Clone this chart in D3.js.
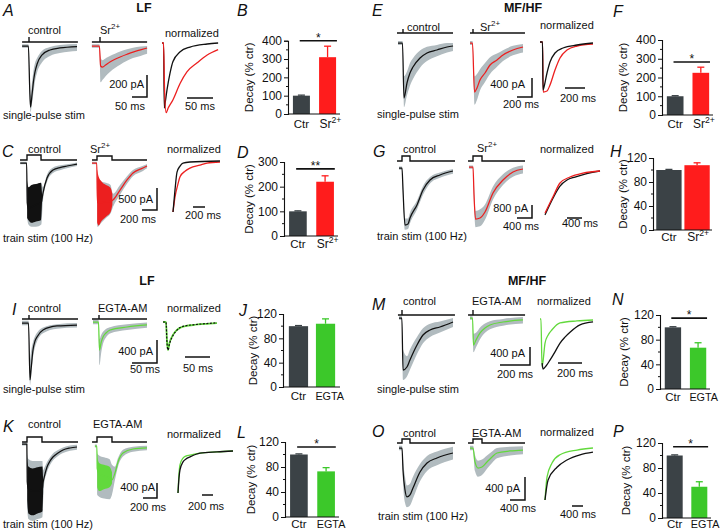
<!DOCTYPE html>
<html><head><meta charset="utf-8">
<script src="https://cdn.jsdelivr.net/npm/d3@7"></script>
<style>body{margin:0;background:#fff}svg{display:block}text{font-family:"Liberation Sans",Arial,sans-serif;fill:#111}</style>
</head><body><svg id="c" width="720" height="532"></svg>
<script>
// ================= DATA =================
// bar charts: % decay relative to control
const catsSr = ["Ctr", "Sr2+"];
const catsEG = ["Ctr", "EGTA"];
const decayB = [100, 310], errB = [3, 60];
const decayD = [100, 220], errD = [2, 24];
const decayF = [100, 225], errF = [3, 30];
const decayH = [100, 108], errH = [1, 4];
const decayJ = [100, 104], errJ = [1, 8];
const decayL = [100, 73],  errL = [1, 6];
const decayN = [100, 67],  errN = [1, 8];
const decayP = [100, 50],  errP = [1, 8];
const ticks400 = [0, 100, 200, 300, 400];
const ticks300 = [0, 100, 200, 300];
const ticks120 = [0, 40, 80, 120];
// significance bars: [value level, label]
const sigB = [400, "*"], sigD = [272, "**"], sigF = [283, "*"], sigL = [112, "*"], sigN = [115, "*"], sigP = [114, "*"];

// raw traces: [time ms, mean pA, gray envelope low pA, gray envelope high pA]
const tA_ctrl = [[-23,0,-15,15],[-2,0,-15,15],[2,-355,-450,-250],[5,-555,-600,-450],[10,-445,-520,-330],[15,-320,-420,-220],[20,-236,-320,-155],[27,-164,-240,-110],[43,-82,-150,-45],[70,-36,-90,-10],[103,-18,-64,10],[160,-5,-45,18]];
const tA_sr = [[-27,0,-15,15],[-2,0,-15,15],[2,-182,-330,-100],[8,-191,-310,-130],[20,-170,-270,-110],[33,-145,-236,-90],[50,-120,-200,-70],[67,-100,-170,-50],[90,-75,-135,-30],[110,-55,-110,-15],[135,-35,-90,-5],[157,-18,-70,0]];
const tC_ctrl = [[-90,0,-30,30],[-5,0,-30,30],[3,-900,-1250,-500],[20,-1050,-1400,-600],[60,-1000,-1450,-550],[120,-950,-1450,-500],[190,-900,-1400,-450],[213,-682,-850,-550],[267,-341,-430,-260],[347,-159,-230,-100],[450,-100,-160,-50],[533,-68,-120,-30],[667,-23,-70,10]];
const tC_sr = [[-67,0,-30,30],[-3,0,-30,30],[5,-900,-1450,-350],[60,-900,-1350,-420],[120,-880,-1250,-450],[180,-870,-1150,-500],[213,-840,-1000,-700],[307,-614,-720,-500],[400,-386,-470,-300],[480,-227,-300,-160],[613,-114,-180,-60],[667,-68,-120,-20]];
const tE_ctrl = [[-67,0,-40,40],[-7,0,-40,40],[13,-1158,-1350,-700],[53,-842,-1100,-600],[93,-632,-900,-420],[133,-505,-760,-320],[227,-316,-520,-160],[320,-210,-380,-80],[453,-147,-280,-40],[587,-84,-200,0],[667,-63,-170,0]];
const tE_sr = [[-40,0,-40,40],[-7,0,-40,40],[20,-1032,-1300,-700],[53,-947,-1200,-650],[93,-779,-1000,-550],[160,-632,-820,-420],[227,-463,-650,-300],[320,-358,-500,-220],[400,-253,-380,-150],[533,-147,-260,-60],[667,-84,-200,-20]];
const tG_ctrl = [[-80,0,-100,100],[0,0,-100,100],[27,-1354,-1700,-900],[80,-3508,-3800,-3100],[160,-3446,-3750,-3100],[213,-3077,-3400,-2750],[400,-2277,-2550,-2000],[560,-1354,-1650,-1100],[747,-738,-950,-550],[1013,-431,-600,-280],[1360,-185,-350,-60]];
const tG_sr = [[-107,0,-100,100],[0,0,-100,100],[27,-1723,-2300,-1100],[67,-3200,-3700,-2700],[187,-3138,-3650,-2600],[320,-2769,-3250,-2300],[533,-1600,-2000,-1200],[800,-800,-1100,-450],[1067,-308,-600,-50],[1333,-123,-400,100]];
const tI_ctrl = [[-14,0,-40,40],[-1,0,-40,40],[2,-991,-1080,-640],[4,-817,-950,-500],[8,-470,-600,-330],[12,-313,-420,-230],[16,-243,-320,-170],[28,-122,-180,-80],[56,-52,-100,-20],[96,-35,-80,0]];
const tI_egta = [[-12,0,-40,40],[-1,0,-40,40],[1,-487,-750,-300],[4,-365,-560,-230],[8,-261,-380,-170],[14,-191,-270,-120],[22,-139,-200,-90],[56,-87,-140,-40],[96,-52,-100,-10]];
const tK_ctrl = [[-71,0,-40,40],[-2,0,-40,40],[3,-1000,-1700,-300],[20,-1200,-2000,-400],[80,-1250,-2050,-450],[150,-1250,-2000,-450],[220,-1200,-1950,-450],[229,-1040,-1600,-700],[243,-907,-1100,-650],[286,-613,-750,-480],[329,-453,-560,-350],[371,-347,-440,-250],[443,-240,-320,-160],[514,-160,-240,-90],[614,-107,-180,-40],[714,-80,-150,-20]];
const tK_egta = [[-30,0,-40,40],[-2,0,-40,40],[3,-600,-1300,-200],[30,-750,-1350,-250],[100,-800,-1400,-300],[180,-850,-1420,-350],[214,-900,-1300,-500],[257,-720,-900,-550],[300,-427,-550,-320],[371,-187,-280,-100],[514,-80,-150,-20],[714,-53,-110,10]];
const tM_ctrl = [[-20,0,-40,40],[-1,0,-40,40],[7,-1156,-1380,-700],[33,-1089,-1300,-850],[53,-933,-1150,-700],[100,-600,-800,-420],[140,-378,-560,-230],[187,-267,-420,-130],[253,-200,-320,-80],[340,-89,-200,0]];
const tM_egta = [[-20,0,-40,40],[-3,0,-40,40],[3,-600,-760,-350],[20,-489,-650,-330],[47,-333,-470,-210],[80,-222,-330,-120],[113,-156,-250,-70],[200,-89,-170,-20],[333,-44,-120,20]];
const tO_ctrl = [[-80,0,-40,40],[0,0,-40,40],[27,-383,-600,-200],[80,-730,-950,-500],[133,-852,-1030,-650],[213,-817,-1000,-620],[293,-696,-880,-500],[480,-417,-580,-280],[667,-261,-400,-140],[933,-174,-300,-60],[1360,-87,-200,20]];
const tO_egta = [[-80,0,-40,40],[0,0,-40,40],[53,-243,-400,-120],[133,-348,-500,-220],[240,-330,-470,-200],[373,-243,-360,-130],[507,-157,-260,-60],[640,-87,-180,0],[987,-52,-130,20],[1333,-35,-110,30]];

// train-stim dense response bands: [time ms, low pA, high pA]
const bandC_ctrl = [[2,-1250,-400],[20,-1300,-550],[60,-1360,-500],[120,-1330,-480],[185,-1300,-450],[200,-900,-700]];
const bandC_sr = [[2,-1350,-150],[20,-1420,-300],[60,-1320,-420],[120,-1220,-500],[180,-1120,-560],[205,-950,-700]];
const bandK_ctrl = [[3,-1500,-400],[20,-1850,-600],[80,-1900,-650],[150,-1850,-620],[220,-1800,-600],[230,-1300,-900]];
const bandK_egta = [[3,-1100,-300],[30,-1200,-450],[100,-1150,-500],[180,-1100,-550],[214,-1000,-700]];

// normalized traces: [time ms, normalized amplitude]
const nA_ctrl = [[-2,0],[1,0],[2.5,-0.97],[4,-0.9],[7.7,-0.7],[13.5,-0.45],[19,-0.28],[33,-0.13],[52,-0.06],[85,-0.015],[106,0]];
const nA_sr = [[-2,0],[1,0],[3,-0.7],[6,-1.04],[10,-0.97],[19,-0.85],[33,-0.6],[46,-0.43],[65,-0.3],[85,-0.18],[106,-0.1]];
const nC_ctrl = [[0,-1],[33,-0.57],[67,-0.22],[117,-0.1],[167,-0.04],[283,-0.02],[783,0]];
const nC_sr = [[0,-1],[33,-0.71],[83,-0.45],[117,-0.31],[200,-0.2],[283,-0.14],[450,-0.08],[567,-0.04],[783,-0.02]];
const nE_ctrl = [[0,0],[25,0],[30,-0.96],[40,-0.9],[70,-0.62],[100,-0.4],[150,-0.22],[230,-0.12],[370,-0.06],[530,-0.02]];
const nE_sr = [[0,0],[25,0],[32,-1.0],[70,-0.98],[100,-0.86],[150,-0.56],[200,-0.32],[270,-0.16],[370,-0.08],[530,-0.04]];
const nG_ctrl = [[0,-1.02],[213,-0.63],[400,-0.35],[587,-0.21],[800,-0.14],[1067,-0.07],[1467,0]];
const nG_sr = [[0,-0.98],[213,-0.6],[400,-0.28],[667,-0.14],[1013,-0.05],[1467,0]];
const nI_ctrl = [[0,0],[6,0],[8,-0.75],[10,-1.0],[13,-0.78],[20,-0.48],[27,-0.31],[34,-0.2],[47,-0.13],[60,-0.1],[84,-0.06],[108,-0.03]];
const nI_egta = [[0,0],[6,0],[8,-0.7],[10,-1.0],[13,-0.75],[20,-0.46],[27,-0.3],[34,-0.21],[47,-0.14],[60,-0.11],[84,-0.07],[108,-0.04]];
const nK_ctrl = [[0,-1.0],[18,-0.64],[36,-0.45],[91,-0.26],[145,-0.19],[218,-0.14],[400,-0.05],[709,-0.02],[1000,0]];
const nK_egta = [[0,-1.0],[18,-0.55],[36,-0.33],[91,-0.17],[145,-0.12],[218,-0.1],[400,-0.05],[709,-0.02],[1000,0]];
const nM_ctrl = [[18,-0.9],[25,-1.02],[50,-0.96],[83,-0.84],[125,-0.67],[167,-0.49],[208,-0.37],[250,-0.27],[333,-0.12],[442,-0.06]];
const nM_egta = [[0,0],[8,0],[17,-0.98],[42,-0.49],[67,-0.33],[100,-0.22],[167,-0.08],[308,-0.04],[442,-0.02]];
const nO_ctrl = [[0,-1.0],[109,-0.62],[436,-0.37],[800,-0.23],[1273,-0.13],[1745,-0.08]];
const nO_egta = [[0,-1.0],[73,-0.56],[255,-0.29],[545,-0.13],[1164,-0.04],[1745,0]];

// stimulus timing (ms): single pulse [start, end]; train [start, on, off, end]
const stimA_ctrl = [-23, 163], stimA_sr = [-27, 157];
const stimE_ctrl = [-80, 667], stimE_sr = [-40, 693];
const stimI_ctrl = [-14, 98], stimI_egta = [-14, 96];
const stimM_ctrl = [-27, 353], stimM_egta = [-33, 347];
const stimC_ctrl = [-93, 0, 187, 667], stimC_sr = [-67, 0, 200, 667];
const stimG_ctrl = [-133, 0, 213, 1413], stimG_sr = [-133, 0, 240, 1387];
const stimK_ctrl = [-71, 0, 214, 729], stimK_egta = [-71, 0, 214, 714];
const stimO_ctrl = [-133, 0, 213, 1413], stimO_egta = [-133, 0, 240, 1387];

// scale bars: [ms, pA]
const sbA = [50, 200], sbC = [200, 500], sbE = [200, 400], sbG = [400, 800];
const sbI = [50, 400], sbK = [200, 400], sbM = [200, 400], sbO = [400, 400];
const sbAn = 50, sbCn = 200, sbEn = 200, sbGn = 400, sbIn = 50, sbKn = 200, sbMn = 200, sbOn = 400;

// ================= DRAWING =================
const COL = {black:"#111", gray:"#b1bbbf", red:"#ec1f1f", green:"#62d93c",
             barDark:"#3b4246", barRed:"#ff1c1c", barGreen:"#3cc82a"};
const svg = d3.select("#c");

function scales(L) {
  const x = d3.scaleLinear().domain([0, 100]).range([L.ox, L.ox + 100 * L.kx]);
  const y = d3.scaleLinear().domain([0, -1]).range([L.oy, L.oy + L.ky]);
  return {x, y};
}
function txt(x, y, s, opt = {}) {
  const t = svg.append("text").attr("x", x).attr("y", y).attr("font-size", opt.size || 11).text(s);
  if (opt.anchor) t.attr("text-anchor", opt.anchor);
  if (opt.weight) t.attr("font-weight", opt.weight);
  if (opt.style) t.attr("font-style", opt.style);
  return t;
}
function srLabel(x, y, opt = {}) {
  const sz = opt.size || 11;
  const t = svg.append("text").attr("x", x).attr("y", y).attr("font-size", sz);
  if (opt.anchor) t.attr("text-anchor", opt.anchor);
  t.append("tspan").text("Sr");
  t.append("tspan").attr("dy", -sz * 0.42).attr("font-size", sz * 0.72).text("2+");
  return t;
}
function drawStim(s, stim, yPix, up) {
  const g = svg.append("g").attr("fill", "none").attr("stroke", COL.black).attr("stroke-width", 1.4);
  if (stim.length === 2) {
    g.append("line").attr("x1", s.x(stim[0])).attr("x2", s.x(stim[1])).attr("y1", yPix).attr("y2", yPix);
    g.append("line").attr("x1", s.x(0)).attr("x2", s.x(0)).attr("y1", yPix).attr("y2", yPix - up);
  } else {
    const p = d3.path();
    p.moveTo(s.x(stim[0]), yPix); p.lineTo(s.x(stim[1]), yPix); p.lineTo(s.x(stim[1]), yPix - up);
    p.lineTo(s.x(stim[2]), yPix - up); p.lineTo(s.x(stim[2]), yPix); p.lineTo(s.x(stim[3]), yPix);
    g.append("path").attr("d", p.toString());
  }
}
function rawPanel(L, rows, band, color, stim, stimY, stimUp) {
  const s = scales(L);
  const cv = d3.curveMonotoneX;
  svg.append("path").datum(rows)
    .attr("d", d3.area().x(d => s.x(d[0])).y0(d => s.y(d[2])).y1(d => s.y(d[3])).curve(cv))
    .attr("fill", COL.gray);
  if (band) svg.append("path").datum(band)
    .attr("d", d3.area().x(d => s.x(d[0])).y0(d => s.y(d[1])).y1(d => s.y(d[2])).curve(cv))
    .attr("fill", color);
  svg.append("path").datum(rows)
    .attr("d", d3.line().x(d => s.x(d[0])).y(d => s.y(d[1])).curve(cv))
    .attr("fill", "none").attr("stroke", color).attr("stroke-width", 1.25);
  drawStim(s, stim, stimY, stimUp);
  return s;
}
function normPanel(L, traces) {
  const s = scales(L);
  traces.forEach(tr => {
    const p = svg.append("path").datum(tr.data)
      .attr("d", d3.line().x(d => s.x(d[0])).y(d => s.y(d[1])).curve(d3.curveMonotoneX))
      .attr("fill", "none").attr("stroke", tr.color).attr("stroke-width", tr.w || 1.3);
    if (tr.dash) p.attr("stroke-dasharray", tr.dash);
  });
  return s;
}
function scaleBarL(s, cx, cy, sb) {
  const w = s.x(sb[0]) - s.x(0), h = s.y(-sb[1]) - s.y(0);
  svg.append("path").attr("d", `M${cx - w},${cy}H${cx}V${cy - h}`)
    .attr("fill", "none").attr("stroke", COL.black).attr("stroke-width", 1.5);
}
function scaleBarH(s, x0, y0, ms) {
  svg.append("line").attr("x1", x0).attr("x2", x0 + s.x(ms) - s.x(0)).attr("y1", y0).attr("y2", y0)
    .attr("stroke", COL.black).attr("stroke-width", 1.5);
}
function barChart(B, vals, errs, cats, color, ticks, sig) {
  const y = d3.scaleLinear().domain([0, ticks[ticks.length - 1]]).range([B.y0, B.yTop]);
  const x = d3.scaleBand().domain(cats).range(B.range).paddingInner(B.pin).paddingOuter(B.pout);
  const g = svg.append("g");
  cats.forEach((c, i) => {
    const col = i === 0 ? COL.barDark : color;
    const cx = x(c) + x.bandwidth() / 2;
    g.append("line").attr("x1", cx).attr("x2", cx).attr("y1", y(vals[i])).attr("y2", y(vals[i] + errs[i]))
      .attr("stroke", col).attr("stroke-width", 1.3);
    g.append("line").attr("x1", cx - 3.5).attr("x2", cx + 3.5).attr("y1", y(vals[i] + errs[i])).attr("y2", y(vals[i] + errs[i]))
      .attr("stroke", col).attr("stroke-width", 1.3);
  });
  g.selectAll("rect").data(vals).join("rect")
    .attr("x", (d, i) => x(cats[i])).attr("width", x.bandwidth())
    .attr("y", d => y(d)).attr("height", d => B.y0 - y(d))
    .attr("fill", (d, i) => i === 0 ? COL.barDark : color);
  const ax = svg.append("g").attr("transform", `translate(${B.ax},0)`)
    .call(d3.axisLeft(y).tickValues(ticks).tickSize(4).tickPadding(2).tickFormat(d3.format("d")));
  ax.select(".domain").attr("stroke", "#111").attr("stroke-width", 1.1);
  ax.selectAll(".tick line").attr("stroke", "#111");
  ax.selectAll(".tick text").attr("font-size", 12).attr("font-family", "Liberation Sans, Arial, sans-serif").attr("fill", "#111");
  const minor = d3.range(ticks[0], ticks[ticks.length - 1], (ticks[1] - ticks[0]) / 2).filter(v => !ticks.includes(v));
  svg.append("g").selectAll("line").data(minor).join("line")
    .attr("x1", B.ax - 2).attr("x2", B.ax).attr("y1", d => y(d)).attr("y2", d => y(d)).attr("stroke", "#111");
  svg.append("line").attr("x1", B.ax).attr("x2", B.range[1]).attr("y1", B.y0).attr("y2", B.y0).attr("stroke", "#111").attr("stroke-width", 1.1);
  const narrow = x.bandwidth() < 22;
  cats.forEach((c, i) => {
    const cx = x(c) + x.bandwidth() / 2;
    const lx = (i === 1 && narrow) ? x(c) - 0.5 : cx;
    const anc = (i === 1 && narrow) ? "start" : "middle";
    if (c === "Sr2+") srLabel(lx + 1, B.lab, {anchor: anc, size: 12});
    else txt(lx, B.lab, c, {anchor: anc, size: c === "EGTA" ? 10.8 : 11.5});
  });
  svg.append("text").attr("transform", `translate(${B.ax - B.tOff},${(B.y0 + B.yTop) / 2}) rotate(-90)`)
    .attr("text-anchor", "middle").attr("font-size", 11.5).text("Decay (% ctr)");
  if (sig) {
    const x1 = x(cats[0]) + x.bandwidth() * 0.4, x2 = x(cats[1]) + x.bandwidth() * 1.05;
    svg.append("line").attr("x1", x1).attr("x2", x2).attr("y1", y(sig[0])).attr("y2", y(sig[0]))
      .attr("stroke", "#111").attr("stroke-width", 1.6);
    txt((x1 + x2) / 2, y(sig[0]) + 1, sig[1], {anchor: "middle", size: 12});
  }
}

// ---- Panel letters & headers ----
const letters = [["A",3,16],["B",237,16],["C",2,157],["D",237,158],["E",372,16],["F",613,17],["G",373,157],["H",610,157],
                 ["I",12,315],["J",239,316],["K",3,432],["L",237,438],["M",372,310],["N",612,305],["O",372,437],["P",613,437]];
letters.forEach(l => txt(l[1], l[2], l[0], {size: 16, style: "italic"}));
txt(144, 12, "LF", {anchor: "middle", weight: "bold", size: 12.5});
txt(523, 12, "MF/HF", {anchor: "middle", weight: "bold", size: 12.5});
txt(147, 285, "LF", {anchor: "middle", weight: "bold", size: 12.5});
txt(527, 285, "MF/HF", {anchor: "middle", weight: "bold", size: 12.5});

// ---- A ----
rawPanel({ox:29, oy:46, kx:0.3, ky:0.11}, tA_ctrl, null, COL.black, stimA_ctrl, 42, 5);
const sA = rawPanel({ox:100, oy:46, kx:0.3, ky:0.11}, tA_sr, null, COL.red, stimA_sr, 42, 5);
scaleBarL(sA, 147, 97, sbA);
const sAn = normPanel({ox:163, oy:43, kx:0.52, ky:67}, [{data:nA_ctrl, color:COL.black}, {data:nA_sr, color:COL.red}]);
scaleBarH(sAn, 187, 98, sbAn);
txt(28, 34, "control"); srLabel(100, 34); txt(165, 37, "normalized");
txt(144, 88, "200 pA", {anchor:"end"}); txt(115, 110, "50 ms"); txt(185, 110, "50 ms");
txt(3, 119, "single-pulse stim");
barChart({ax:288, y0:114, yTop:40.7, range:[289,340], pin:0.35, pout:0.15, tOff:35, lab:128}, decayB, errB, catsSr, COL.barRed, ticks400, sigB);

// ---- C ----
rawPanel({ox:27, oy:163, kx:0.075, ky:0.044}, tC_ctrl, bandC_ctrl, COL.black, stimC_ctrl, 160, 5);
const sC = rawPanel({ox:97, oy:163, kx:0.075, ky:0.044}, tC_sr, bandC_sr, COL.red, stimC_sr, 160, 4);
scaleBarL(sC, 157, 210, sbC);
const sCn = normPanel({ox:173, oy:161, kx:0.06, ky:51}, [{data:nC_sr, color:COL.red}, {data:nC_ctrl, color:COL.black}]);
scaleBarH(sCn, 193, 207, sbCn);
txt(28, 153, "control"); srLabel(90, 153); txt(167, 153, "normalized");
txt(153, 203, "500 pA", {anchor:"end"}); txt(120, 223, "200 ms"); txt(185, 219, "200 ms");
txt(3, 242, "train stim (100 Hz)");
barChart({ax:284, y0:236, yTop:162, range:[285,338], pin:0.35, pout:0.15, tOff:31, lab:248}, decayD, errD, catsSr, COL.barRed, ticks300, sigD);

// ---- E ----
rawPanel({ox:403, oy:43, kx:0.075, ky:0.0475}, tE_ctrl, null, COL.black, stimE_ctrl, 33, 4);
const sE = rawPanel({ox:473, oy:43, kx:0.075, ky:0.0475}, tE_sr, null, COL.red, stimE_sr, 33, 4);
scaleBarL(sE, 532, 97, sbE);
const sEn = normPanel({ox:540, oy:42, kx:0.1, ky:50}, [{data:nE_sr, color:COL.red}, {data:nE_ctrl, color:COL.black}]);
scaleBarH(sEn, 565, 88, sbEn);
txt(407, 31, "control"); srLabel(480, 31); txt(540, 29, "normalized");
txt(525, 88, "400 pA", {anchor:"end"}); txt(503, 108, "200 ms"); txt(560, 102, "200 ms");
txt(377, 118, "single-pulse stim");
barChart({ax:662, y0:115, yTop:40, range:[663,713], pin:0.35, pout:0.15, tOff:35, lab:128}, decayF, errF, catsSr, COL.barRed, ticks400, sigF);

// ---- G ----
rawPanel({ox:402, oy:168, kx:0.0375, ky:0.01625}, tG_ctrl, null, COL.black, stimG_ctrl, 161, 5);
const sG = rawPanel({ox:473, oy:167, kx:0.0375, ky:0.01625}, tG_sr, null, COL.red, stimG_sr, 161, 5);
scaleBarL(sG, 532, 218, sbG);
const sGn = normPanel({ox:545, oy:171, kx:0.0375, ky:43}, [{data:nG_ctrl, color:COL.black}, {data:nG_sr, color:COL.red}]);
scaleBarH(sGn, 567, 218, sbGn);
txt(403, 153, "control"); srLabel(477, 152); txt(540, 153, "normalized");
txt(528, 212, "800 pA", {anchor:"end"}); txt(503, 230, "400 ms"); txt(562, 227, "400 ms");
txt(377, 240, "train stim (100 Hz)");
barChart({ax:653, y0:230, yTop:158, range:[654,712], pin:0.1, pout:0.08, tOff:26, lab:241}, decayH, errH, catsSr, COL.barRed, ticks120, null);

// ---- I ----
rawPanel({ox:29, oy:323, kx:0.5, ky:0.0575}, tI_ctrl, null, COL.black, stimI_ctrl, 319, 4);
const sI = rawPanel({ox:99, oy:322, kx:0.5, ky:0.0575}, tI_egta, null, COL.green, stimI_egta, 319, 4);
scaleBarL(sI, 157, 363, sbI);
const sIn = normPanel({ox:163, oy:322, kx:0.5, ky:28}, [{data:nI_egta, color:COL.green, w:1.8}, {data:nI_ctrl, color:COL.black, dash:"2,1.5", w:1.2}]);
scaleBarH(sIn, 185, 357, sbIn);
txt(28, 312, "control"); txt(98, 312, "EGTA-AM"); txt(167, 312, "normalized");
txt(153, 355, "400 pA", {anchor:"end"}); txt(130, 373, "50 ms"); txt(183, 372, "50 ms");
txt(3, 393, "single-pulse stim");
barChart({ax:283, y0:387, yTop:314, range:[284,340], pin:0.29, pout:0.18, tOff:26, lab:400}, decayJ, errJ, catsEG, COL.barGreen, ticks120, null);

// ---- K ----
rawPanel({ox:27, oy:444, kx:0.07, ky:0.0375}, tK_ctrl, bandK_ctrl, COL.black, stimK_ctrl, 442, 5);
const sK = rawPanel({ox:97, oy:446, kx:0.07, ky:0.0375}, tK_egta, bandK_egta, COL.green, stimK_egta, 442, 5);
scaleBarL(sK, 157, 498, sbK);
const sKn = normPanel({ox:178, oy:451, kx:0.055, ky:42}, [{data:nK_egta, color:COL.green}, {data:nK_ctrl, color:COL.black}]);
scaleBarH(sKn, 202, 495, sbKn);
txt(28, 428, "control"); txt(93, 428, "EGTA-AM"); txt(167, 438, "normalized");
txt(155, 491, "400 pA", {anchor:"end"}); txt(130, 511, "200 ms"); txt(188, 510, "200 ms");
txt(3, 528, "train stim (100 Hz)");
barChart({ax:285, y0:517, yTop:442, range:[286,339], pin:0.35, pout:0.15, tOff:30, lab:528}, decayL, errL, catsEG, COL.barGreen, ticks120, sigL);

// ---- M ----
rawPanel({ox:402, oy:318, kx:0.15, ky:0.045}, tM_ctrl, null, COL.black, stimM_ctrl, 315, 5);
const sM = rawPanel({ox:473, oy:318, kx:0.15, ky:0.045}, tM_egta, null, COL.green, stimM_egta, 315, 5);
scaleBarL(sM, 530, 365, sbM);
const sMn = normPanel({ox:540, oy:319, kx:0.12, ky:49}, [{data:nM_egta, color:COL.green}, {data:nM_ctrl, color:COL.black}]);
scaleBarH(sMn, 558, 363, sbMn);
txt(403, 305, "control"); txt(472, 305, "EGTA-AM"); txt(537, 305, "normalized");
txt(525, 357, "400 pA", {anchor:"end"}); txt(497, 378, "200 ms"); txt(557, 377, "200 ms");
txt(377, 393, "single-pulse stim");
barChart({ax:660, y0:389, yTop:315, range:[661,710], pin:0.35, pout:0.15, tOff:32, lab:401}, decayN, errN, catsEG, COL.barGreen, ticks120, sigN);

// ---- O ----
rawPanel({ox:402, oy:448, kx:0.0375, ky:0.0575}, tO_ctrl, null, COL.black, stimO_ctrl, 443, 4);
const sO = rawPanel({ox:473, oy:448, kx:0.0375, ky:0.0575}, tO_egta, null, COL.green, stimO_egta, 443, 4);
scaleBarL(sO, 525, 500, sbO);
const sOn = normPanel({ox:545, oy:448, kx:0.0275, ky:52}, [{data:nO_egta, color:COL.green}, {data:nO_ctrl, color:COL.black}]);
scaleBarH(sOn, 572, 506, sbOn);
txt(403, 437, "control"); txt(472, 437, "EGTA-AM"); txt(540, 436, "normalized");
txt(520, 492, "400 pA", {anchor:"end"}); txt(500, 512, "400 ms"); txt(560, 518, "400 ms");
txt(378, 520, "train stim (100 Hz)");
barChart({ax:662, y0:518, yTop:443, range:[663,711], pin:0.35, pout:0.15, tOff:32, lab:528}, decayP, errP, catsEG, COL.barGreen, ticks120, sigP);
</script>
</body></html>
